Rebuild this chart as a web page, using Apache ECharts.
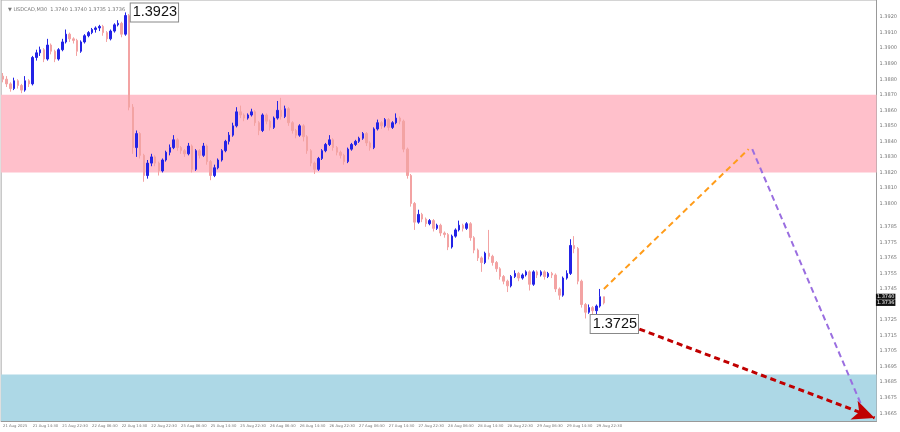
<!DOCTYPE html>
<html>
<head>
<meta charset="utf-8">
<script src="https://cdn.jsdelivr.net/npm/echarts@6/dist/echarts.min.js"></script>
<style>
  html, body { margin: 0; padding: 0; background: #fff; }
  #chart { width: 900px; height: 432px; }
</style>
</head>
<body>
<div id="chart"></div>
<script>
// USDCAD hourly candles: [open, close, low, high]
const ohlc = [
  [1.3882,1.3880,1.3878,1.3884],[1.3880,1.3877,1.3875,1.3882],[1.3877,1.3874,1.3872,1.3878],[1.3874,1.3879,1.3873,1.3881],
  [1.3879,1.3876,1.3874,1.3880],[1.3876,1.3873,1.3871,1.3877],[1.3873,1.3879,1.3872,1.3882],[1.3879,1.3877,1.3875,1.3880],
  [1.3877,1.3894,1.3876,1.3895],[1.3894,1.3897,1.3892,1.3899],[1.3897,1.3899,1.3895,1.3901],[1.3899,1.3893,1.3891,1.3900],
  [1.3893,1.3902,1.3892,1.3906],[1.3902,1.3898,1.3896,1.3903],[1.3898,1.3893,1.3891,1.3899],[1.3893,1.3899,1.3892,1.3900],
  [1.3899,1.3904,1.3898,1.3906],[1.3904,1.3909,1.3903,1.3912],[1.3909,1.3906,1.3904,1.3910],[1.3906,1.3905,1.3903,1.3907],
  [1.3905,1.3898,1.3895,1.3906],[1.3898,1.3904,1.3897,1.3905],[1.3904,1.3908,1.3903,1.3909],[1.3908,1.3910,1.3907,1.3911],
  [1.3910,1.3912,1.3909,1.3913],[1.3912,1.3913,1.3910,1.3914],[1.3913,1.3914,1.3911,1.3915],[1.3914,1.3910,1.3908,1.3915],
  [1.3910,1.3906,1.3904,1.3911],[1.3906,1.3911,1.3905,1.3912],[1.3911,1.3915,1.3910,1.3916],[1.3915,1.3916,1.3914,1.3918],
  [1.3916,1.3909,1.3907,1.3917],[1.3909,1.3921,1.3908,1.3923],[1.3921,1.3862,1.3860,1.3922],[1.3862,1.3836,1.3832,1.3864],
  [1.3836,1.3845,1.3830,1.3847],[1.3845,1.3831,1.3829,1.3846],[1.3831,1.3818,1.3814,1.3832],[1.3818,1.3826,1.3816,1.3828],
  [1.3826,1.3830,1.3824,1.3832],[1.3830,1.3826,1.3824,1.3831],[1.3826,1.3821,1.3818,1.3827],[1.3821,1.3828,1.3820,1.3829],
  [1.3828,1.3833,1.3827,1.3834],[1.3833,1.3836,1.3831,1.3838],[1.3836,1.3841,1.3835,1.3844],[1.3841,1.3836,1.3834,1.3842],
  [1.3836,1.3834,1.3832,1.3837],[1.3834,1.3832,1.3830,1.3835],[1.3832,1.3837,1.3831,1.3839],[1.3837,1.3822,1.3820,1.3838],
  [1.3822,1.3834,1.3821,1.3835],[1.3834,1.3831,1.3829,1.3835],[1.3831,1.3837,1.3830,1.3839],[1.3837,1.3827,1.3825,1.3838],
  [1.3827,1.3818,1.3815,1.3828],[1.3818,1.3823,1.3817,1.3825],[1.3823,1.3828,1.3822,1.3829],[1.3828,1.3834,1.3827,1.3835],
  [1.3834,1.3840,1.3833,1.3841],[1.3840,1.3844,1.3838,1.3846],[1.3844,1.3850,1.3843,1.3852],[1.3850,1.3859,1.3849,1.3862],
  [1.3859,1.3857,1.3855,1.3863],[1.3857,1.3855,1.3853,1.3858],[1.3855,1.3857,1.3854,1.3858],[1.3857,1.3859,1.3856,1.3861],
  [1.3859,1.3852,1.3850,1.3860],[1.3852,1.3847,1.3844,1.3853],[1.3847,1.3857,1.3846,1.3858],[1.3857,1.3853,1.3851,1.3858],
  [1.3853,1.3849,1.3847,1.3854],[1.3849,1.3855,1.3848,1.3856],[1.3855,1.3860,1.3854,1.3866],[1.3860,1.3856,1.3854,1.3868],
  [1.3856,1.3861,1.3855,1.3863],[1.3861,1.3852,1.3850,1.3862],[1.3852,1.3847,1.3845,1.3853],[1.3847,1.3844,1.3842,1.3848],
  [1.3844,1.3850,1.3843,1.3851],[1.3850,1.3843,1.3840,1.3851],[1.3843,1.3834,1.3832,1.3844],[1.3834,1.3826,1.3824,1.3835],
  [1.3826,1.3822,1.3819,1.3827],[1.3822,1.3829,1.3821,1.3830],[1.3829,1.3834,1.3828,1.3835],[1.3834,1.3838,1.3833,1.3839],
  [1.3838,1.3841,1.3837,1.3844],[1.3841,1.3836,1.3834,1.3842],[1.3836,1.3833,1.3831,1.3837],[1.3833,1.3831,1.3829,1.3834],
  [1.3831,1.3827,1.3825,1.3832],[1.3827,1.3835,1.3826,1.3836],[1.3835,1.3838,1.3834,1.3839],[1.3838,1.3840,1.3837,1.3841],
  [1.3840,1.3842,1.3839,1.3843],[1.3842,1.3845,1.3841,1.3846],[1.3845,1.3839,1.3837,1.3846],[1.3839,1.3836,1.3834,1.3840],
  [1.3836,1.3848,1.3835,1.3849],[1.3848,1.3852,1.3847,1.3854],[1.3852,1.3850,1.3848,1.3853],[1.3850,1.3854,1.3849,1.3855],
  [1.3854,1.3849,1.3847,1.3855],[1.3849,1.3852,1.3848,1.3853],[1.3852,1.3855,1.3851,1.3858],[1.3855,1.3853,1.3851,1.3856],
  [1.3853,1.3835,1.3833,1.3854],[1.3835,1.3818,1.3816,1.3836],[1.3818,1.3800,1.3798,1.3819],[1.3800,1.3788,1.3783,1.3801],
  [1.3788,1.3793,1.3787,1.3796],[1.3793,1.3790,1.3788,1.3794],[1.3790,1.3787,1.3785,1.3791],[1.3787,1.3789,1.3786,1.3790],
  [1.3789,1.3784,1.3782,1.3790],[1.3784,1.3786,1.3783,1.3787],[1.3786,1.3781,1.3779,1.3787],[1.3781,1.3780,1.3778,1.3782],
  [1.3780,1.3772,1.3770,1.3781],[1.3772,1.3779,1.3771,1.3780],[1.3779,1.3783,1.3778,1.3784],[1.3783,1.3786,1.3782,1.3789],
  [1.3786,1.3784,1.3782,1.3787],[1.3784,1.3787,1.3783,1.3788],[1.3787,1.3778,1.3776,1.3788],[1.3778,1.3770,1.3768,1.3779],
  [1.3770,1.3765,1.3763,1.3771],[1.3765,1.3762,1.3756,1.3766],[1.3762,1.3768,1.3761,1.3769],[1.3768,1.3766,1.3764,1.3783],
  [1.3766,1.3762,1.3760,1.3767],[1.3762,1.3758,1.3756,1.3763],[1.3758,1.3753,1.3751,1.3759],[1.3753,1.3750,1.3748,1.3754],
  [1.3750,1.3747,1.3743,1.3751],[1.3747,1.3753,1.3746,1.3754],[1.3753,1.3755,1.3752,1.3757],[1.3755,1.3752,1.3750,1.3756],
  [1.3752,1.3754,1.3751,1.3755],[1.3754,1.3756,1.3753,1.3757],[1.3756,1.3748,1.3744,1.3757],[1.3748,1.3756,1.3747,1.3757],
  [1.3756,1.3754,1.3752,1.3757],[1.3754,1.3756,1.3753,1.3757],[1.3756,1.3753,1.3751,1.3757],[1.3753,1.3755,1.3752,1.3756],
  [1.3755,1.3754,1.3752,1.3756],[1.3754,1.3745,1.3743,1.3755],[1.3745,1.3741,1.3738,1.3746],[1.3741,1.3752,1.3740,1.3753],
  [1.3752,1.3755,1.3751,1.3757],[1.3755,1.3773,1.3754,1.3777],[1.3773,1.3771,1.3768,1.3779],[1.3771,1.3750,1.3748,1.3772],
  [1.3750,1.3735,1.3733,1.3751],[1.3735,1.3730,1.3726,1.3736],[1.3730,1.3733,1.3729,1.3735],[1.3733,1.3731,1.3728,1.3734],
  [1.3731,1.3734,1.3726,1.3735],[1.3734,1.3740,1.3733,1.3745],[1.3740,1.3736,1.3735,1.3740]
];

// one label every 8 bars
const timeLabels = [
  "21 Aug 2025", "21 Aug 14:30", "21 Aug 22:30", "22 Aug 06:30", "22 Aug 14:30", "22 Aug 22:30",
  "25 Aug 06:30", "25 Aug 14:30", "25 Aug 22:30", "26 Aug 06:30", "26 Aug 14:30", "26 Aug 22:30",
  "27 Aug 06:30", "27 Aug 14:30", "27 Aug 22:30", "28 Aug 06:30", "28 Aug 14:30", "28 Aug 22:30",
  "29 Aug 06:30", "29 Aug 14:30", "29 Aug 22:30"
];
const totalBars = 236; // includes empty space on the right for the forecast

const priceLabels = [
  1.3920, 1.3910, 1.3900, 1.3890, 1.3880, 1.3870, 1.3860, 1.3850, 1.3840, 1.3830, 1.3820, 1.3810, 1.3800,
  1.3785, 1.3775, 1.3765, 1.3755, 1.3745, 1.3725, 1.3715, 1.3705, 1.3695, 1.3685, 1.3675, 1.3665
];

const resistanceZone = [1.3870, 1.3820];
const supportZone = [1.3690, 1.3660];

const highMark = [33, 1.3923];
const lowMark = [157, 1.3725];
const lastPrices = [1.3740, 1.3736];

// forecast legs: [barIndex, price]
const upLeg = [[162, 1.3745], [201, 1.3835]];
const downLeg = [[202, 1.3835], [232, 1.3667]];
const mainLeg = [[164, 1.3726], [235, 1.3662]];

const categories = Array.from({ length: totalBars }, (_, i) => String(i));

const chart = echarts.init(document.getElementById("chart"));

const leg = (pts, color, width, arrow) => [
  { coord: pts[0], symbol: "none", lineStyle: { color, width, type: [6, 4] } },
  { coord: pts[1], symbol: arrow ? "arrow" : "none", symbolSize: arrow ? [15, 22] : 0, itemStyle: { color } }
];

const boxLabel = (text, offset) => ({
  show: true, formatter: text, offset,
  fontSize: 14.5, color: "#111", fontFamily: "Liberation Sans",
  backgroundColor: "#fff", borderColor: "#888", borderWidth: 1, padding: [2, 1, 1, 2]
});

chart.setOption({
  animation: false,
  title: {
    text: "\u25BC USDCAD,M30  1.3740 1.3740 1.3735 1.3736",
    left: 3,
    top: 2,
    textStyle: { fontSize: 5, color: "#777", fontWeight: "normal", fontFamily: "DejaVu Sans" }
  },
  grid: { left: 0, right: 17, top: 0, bottom: 11, show: true, borderColor: "#aaa", borderWidth: 1 },
  xAxis: {
    type: "category",
    data: categories,
    boundaryGap: true,
    axisLine: { lineStyle: { color: "#999" } },
    axisTick: { interval: 7, alignWithLabel: true, length: 3, lineStyle: { color: "#999" } },
    axisLabel: {
      interval: 7,
      align: "left",
      margin: 3,
      fontSize: 3.8,
      color: "#777",
      fontFamily: "DejaVu Sans",
      formatter: (v, i) => timeLabels[i / 8] || ""
    },
    splitLine: { show: false }
  },
  yAxis: {
    type: "value",
    position: "right",
    min: 1.3660,
    max: 1.3931,
    interval: 0.0005,
    axisLine: { show: true, lineStyle: { color: "#999" } },
    axisTick: { show: false },
    splitLine: { show: false },
    axisLabel: {
      margin: 3,
      fontSize: 5,
      color: "#777",
      fontFamily: "DejaVu Sans",
      formatter: v => {
        const s = v.toFixed(4);
        return priceLabels.some(p => p.toFixed(4) === s) ? s : "";
      }
    }
  },
  series: [
    {
      type: "candlestick",
      data: ohlc,
      barWidth: 2,
      itemStyle: {
        color: "#2323e6",
        color0: "#f3a3a3",
        borderColor: "#2323e6",
        borderColor0: "#f3a3a3",
        borderWidth: 1
      },
      markArea: {
        silent: true,
        data: [
          [{ yAxis: resistanceZone[0], itemStyle: { color: "#ffc0cb" } }, { yAxis: resistanceZone[1] }],
          [{ yAxis: supportZone[0], itemStyle: { color: "#add8e6" } }, { yAxis: supportZone[1] }]
        ]
      },
      markLine: {
        silent: true,
        label: { show: false },
        data: [
          leg(upLeg, "#ff9c1a", 2, false),
          leg(downLeg, "#9a6ee0", 2, false),
          leg(mainLeg, "#c00000", 3, true)
        ]
      },
      markPoint: {
        silent: true,
        symbol: "circle",
        symbolSize: 0,
        data: [
          { coord: highMark, label: boxLabel(highMark[1].toFixed(4), [29, 0]) },
          { coord: lowMark, label: boxLabel(lowMark[1].toFixed(4), [29, 4]) },
          ...lastPrices.map(p => ({
            coord: [totalBars - 1, p],
            label: {
              show: true, formatter: p.toFixed(4), offset: [11, 0],
              fontSize: 5, color: "#fff", fontFamily: "DejaVu Sans",
              backgroundColor: "#111", padding: [1, 1, 0, 1]
            }
          }))
        ]
      }
    }
  ]
});
</script>
</body>
</html>
